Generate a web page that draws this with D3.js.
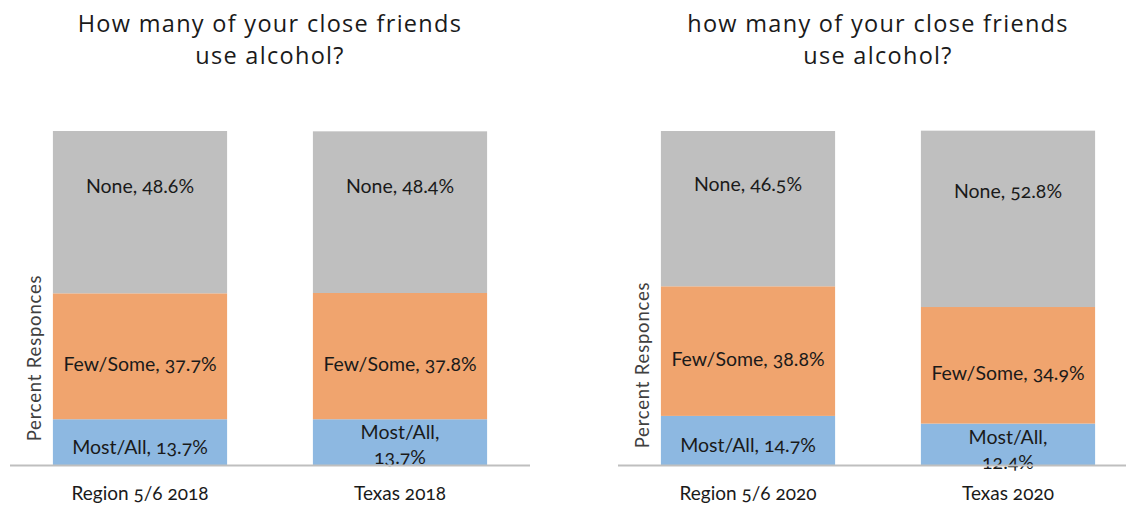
<!DOCTYPE html>
<html>
<head>
<meta charset="utf-8">
<script src="https://cdn.jsdelivr.net/npm/d3@7"></script>
<style>
  body { margin: 0; background: #fff; }
  svg { display: block; }
  .title { font-family: "Open Sans", sans-serif; font-size: 23.5px; letter-spacing: 1.3px; fill: #1a1a1a; }
  .cat { font-family: Lato, sans-serif; font-size: 19px; fill: #1a1a1a; font-variant-numeric: oldstyle-nums; }
  .seg-label { font-family: Lato, sans-serif; font-size: 19.5px; fill: #1a1a1a; font-variant-numeric: oldstyle-nums; }
  .ylab { font-family: Lato, sans-serif; font-size: 18.5px; fill: #404040; letter-spacing: 0.8px; }
</style>
</head>
<body>
<svg class="chart" width="1126" height="506"></svg>
<script>
// chart data
var titles = [
  ['How many of your close friends', 'use alcohol?'],
  ['how many of your close friends', 'use alcohol?']
];
var categories = [
  ['Region 5/6 2018', 'Texas 2018'],
  ['Region 5/6 2020', 'Texas 2020']
];
var segmentNames = ['Most/All', 'Few/Some', 'None'];
var mostAll  = [[13.7, 13.7], [14.7, 12.4]];
var fewSome  = [[37.7, 37.8], [38.8, 34.9]];
var noneVals = [[48.6, 48.4], [46.5, 52.8]];
var yLabel = 'Percent Responces';

// colours per segment
var colors = d3.scaleOrdinal()
  .domain(segmentNames)
  .range(['#8db8e1', '#f0a46e', '#bfbfbf']);

// excel wrapped the Most/All label on the Texas bars
var wrapMost = [[false, true], [false, true]];

var svg = d3.select('.chart');

var panels = [
  {left: 10, right: 530, ylabX: 35},
  {left: 618, right: 1138, ylabX: 643}
];

var plotTop = 131, plotBottom = 465;

var y = d3.scaleLinear()
  .domain([0, 100])
  .range([plotBottom, plotTop]);

panels.forEach(function(p, pi) {
  var g = svg.append('g');

  var x = d3.scaleBand()
    .domain(categories[pi])
    .range([p.left, p.right])
    .paddingInner(0.33)
    .paddingOuter(0.165);

  var cx = (p.left + p.right) / 2;

  // title
  g.selectAll('.title')
    .data(titles[pi])
    .enter().append('text')
    .attr('class', 'title')
    .attr('x', cx)
    .attr('y', function(d, i) { return 32 + i * 32; })
    .attr('text-anchor', 'middle')
    .text(function(d) { return d; });

  // stack the three series
  var rows = categories[pi].map(function(c, i) {
    return {cat: c, 'Most/All': mostAll[pi][i], 'Few/Some': fewSome[pi][i], 'None': noneVals[pi][i], idx: i};
  });
  var stack = d3.stack().keys(segmentNames)(rows);

  stack.forEach(function(layer) {
    var key = layer.key;
    g.selectAll('.bar-' + key.replace('/', ''))
      .data(layer)
      .enter().append('rect')
      .attr('x', function(d) { return x(d.data.cat); })
      .attr('width', x.bandwidth())
      .attr('y', function(d) { return y(d[1]); })
      .attr('height', function(d) { return y(d[0]) - y(d[1]); })
      .attr('fill', colors(key));

    layer.forEach(function(d) {
      var bx = x(d.data.cat) + x.bandwidth() / 2;
      var y0 = y(d[0]), y1 = y(d[1]);
      var val = d.data[key].toFixed(1) + '%';
      var t = g.append('text')
        .attr('class', 'seg-label')
        .attr('text-anchor', 'middle')
        .attr('x', bx);
      if (key === 'None') {
        t.attr('y', y1 + (y0 - y1) * 0.34 + 7).text(key + ', ' + val);
      } else if (key === 'Few/Some') {
        t.attr('y', (y0 + y1) / 2 + 15).text(key + ', ' + val);
      } else if (wrapMost[pi][d.data.idx]) {
        t.attr('y', y1 + 20).text(key + ',');
        g.append('text')
          .attr('class', 'seg-label')
          .attr('text-anchor', 'middle')
          .attr('x', bx)
          .attr('y', y1 + 45)
          .text(val);
      } else {
        t.attr('y', (y0 + y1) / 2 + 12).text(key + ', ' + val);
      }
    });
  });

  // baseline
  g.append('line')
    .attr('x1', p.left)
    .attr('x2', Math.min(p.right, 1126))
    .attr('y1', plotBottom + 0.5)
    .attr('y2', plotBottom + 0.5)
    .attr('stroke', '#bfbfbf')
    .attr('stroke-width', 2);

  // category labels
  g.selectAll('.cat')
    .data(categories[pi])
    .enter().append('text')
    .attr('class', 'cat')
    .attr('x', function(d) { return x(d) + x.bandwidth() / 2; })
    .attr('y', 500)
    .attr('text-anchor', 'middle')
    .text(function(d) { return d; });

  // y axis title
  var yc = pi === 0 ? 358 : 365;
  g.append('text')
    .attr('class', 'ylab')
    .attr('transform', 'translate(' + (p.ylabX + 6) + ',' + yc + ') rotate(-90)')
    .attr('text-anchor', 'middle')
    .text(yLabel);
});
</script>
</body>
</html>
